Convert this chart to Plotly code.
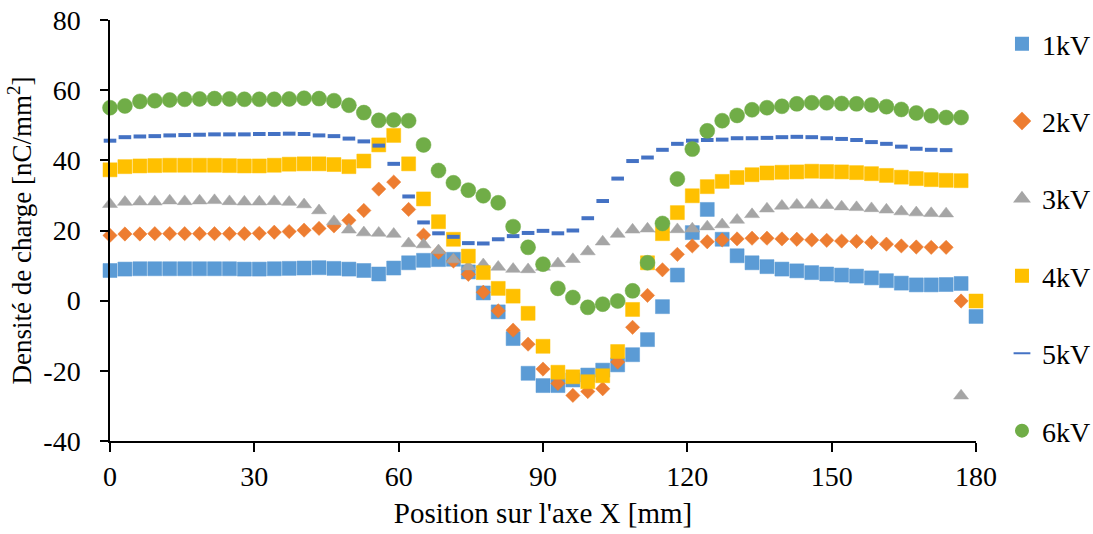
import plotly.graph_objects as go

# measurement positions (mm): 59 equally spaced points over 0..180
x_mm = [round(i * 180 / 58, 2) for i in range(59)]

series_names = ["1kV", "2kV", "3kV", "4kV", "5kV", "6kV"]

kv1 = [8.6, 9.0, 9.1, 9.1, 9.1, 9.1, 9.1, 9.1, 9.1, 9.0, 9.0, 9.1, 9.2, 9.3, 9.4, 9.2, 9.0, 8.6, 7.6, 9.3,
       10.8, 11.5, 11.7, 11.8, 8.2, 2.2, -3.2, -10.8, -20.7, -24.2, -24.2, -22.6, -21.2, -19.8, -18.3, -15.4,
       -11.1, -1.7, 7.3, 19.4, 26.0, 17.5, 12.8, 10.8, 9.7, 9.0, 8.5, 8.0, 7.6, 7.3, 7.0, 6.5, 5.7, 5.0, 4.5,
       4.5, 4.6, 4.9, -4.5]
kv2 = [18.6, 19.0, 19.0, 19.1, 19.1, 19.1, 19.1, 19.1, 19.1, 19.1, 19.2, 19.5, 19.7, 20.1, 20.6, 21.3, 22.9,
       25.7, 31.8, 33.8, 26.0, 18.7, 13.8, 11.3, 7.5, 2.4, -2.9, -8.4, -12.4, -19.5, -23.6, -27.0, -25.9, -25.1,
       -17.5, -7.6, 1.5, 8.8, 13.2, 15.6, 16.8, 17.3, 17.6, 17.8, 17.8, 17.6, 17.5, 17.3, 17.2, 17.0, 16.9,
       16.6, 16.1, 15.6, 15.3, 15.2, 15.2, -0.1]
kv3 = [27.5, 28.1, 28.2, 28.2, 28.5, 28.3, 28.5, 28.6, 28.3, 28.2, 28.2, 28.3, 28.1, 27.4, 25.7, 22.6, 20.2,
       19.4, 19.3, 19.0, 16.3, 16.0, 14.3, 11.7, 9.7, 10.3, 9.6, 9.0, 8.9, 9.6, 10.6, 11.8, 14.0, 16.8, 19.0,
       20.2, 20.5, 20.4, 20.3, 20.5, 21.1, 21.7, 23.0, 24.6, 26.2, 27.0, 27.3, 27.3, 27.2, 26.8, 26.6, 26.3,
       25.9, 25.4, 25.1, 24.9, 24.8, -27.1]
kv4 = [37.3, 38.2, 38.4, 38.5, 38.6, 38.6, 38.6, 38.6, 38.5, 38.4, 38.4, 38.6, 38.9, 39.0, 39.0, 38.8, 38.2,
       39.8, 44.4, 47.1, 39.0, 29.0, 22.5, 17.5, 12.7, 8.0, 3.5, 1.3, -3.6, -13.0, -20.4, -21.7, -23.1, -21.4,
       -14.5, -2.5, 10.8, 19.1, 25.1, 29.9, 32.5, 34.0, 35.1, 35.9, 36.4, 36.6, 36.7, 36.9, 36.8, 36.7, 36.5,
       36.2, 35.7, 35.2, 34.8, 34.5, 34.3, 34.2, -0.1]
kv5 = [45.6, 46.6, 46.8, 46.9, 47.1, 47.2, 47.3, 47.4, 47.4, 47.4, 47.5, 47.5, 47.6, 47.5, 47.1, 46.9, 46.2,
       45.4, 44.2, 39.0, 29.7, 22.3, 19.2, 18.2, 16.4, 16.3, 17.5, 18.4, 19.3, 19.9, 19.2, 20.0, 23.5, 28.4,
       34.8, 39.8, 40.8, 43.0, 44.7, 45.6, 45.8, 45.9, 46.3, 46.3, 46.4, 46.6, 46.7, 46.6, 46.3, 46.1, 45.8,
       45.2, 44.7, 43.9, 43.3, 43.0, 42.9]
kv6 = [55.0, 55.5, 56.8, 57.0, 57.2, 57.4, 57.5, 57.6, 57.5, 57.4, 57.4, 57.4, 57.5, 57.7, 57.6, 57.0, 55.7,
       53.6, 51.4, 51.5, 51.3, 44.4, 37.1, 33.6, 31.5, 29.9, 27.9, 21.1, 15.2, 10.4, 3.5, 0.9, -1.9, -1.0,
       -0.1, 2.8, 10.8, 22.0, 34.7, 43.2, 48.4, 51.3, 52.8, 54.4, 55.0, 55.4, 56.1, 56.4, 56.4, 56.2, 56.1,
       55.8, 55.3, 54.5, 53.5, 52.7, 52.2, 52.2]

x_ticks = [0, 30, 60, 90, 120, 150, 180]
y_ticks = [-40, -20, 0, 20, 40, 60, 80]
y_tick_text = ["-40", "-20", "0", "20", "40", "60", "80"]

colors = ["#5B9BD5", "#ED7D31", "#A5A5A5", "#FFC000", "#4472C4", "#70AD47"]
symbols = ["square", "diamond", "triangle-up", "square", "line-ew", "circle"]
sizes = [14, 11, 13, 14, 9, 15]
values = [kv1, kv2, kv3, kv4, kv5, kv6]

FONT = '"Liberation Serif", "Times New Roman", Times, serif'

fig = go.Figure()
for name, vals, col, sym, sz in zip(series_names, values, colors, symbols, sizes):
    if sym == "line-ew":
        marker = dict(symbol=sym, size=sz, color=col, line=dict(color=col, width=4))
    else:
        marker = dict(symbol=sym, size=sz, color=col, line=dict(color=col, width=0.5))
    fig.add_trace(go.Scatter(
        x=x_mm[:len(vals)], y=vals, mode="markers", name=name,
        legendgroup=name, marker=marker, cliponaxis=False,
    ))

fig.update_layout(
    width=1093, height=534,
    margin=dict(l=110, r=117, t=20, b=93, autoexpand=False),
    paper_bgcolor="white", plot_bgcolor="white",
    font=dict(family=FONT, size=28, color="black"),
    legend=dict(
        x=1.030, xanchor="left", xref="paper",
        y=0.9645, yanchor="top", yref="container",
        maxheight=1,
        font=dict(family=FONT, size=28, color="black"),
        tracegroupgap=38, itemsizing="constant",
        bgcolor="rgba(0,0,0,0)",
    ),
    xaxis=dict(
        range=[0, 180], tickvals=x_ticks, showgrid=False, zeroline=False,
        showline=True, linecolor="black", linewidth=2,
        ticks="outside", ticklen=9, tickwidth=2, tickcolor="black",
        tickfont=dict(family=FONT, size=28),
        title=dict(text="Position sur l'axe X [mm]", font=dict(family=FONT, size=29), standoff=12),
    ),
    yaxis=dict(
        range=[-40, 80], tickvals=y_ticks, ticktext=y_tick_text,
        showgrid=False, zeroline=False,
        showline=True, linecolor="black", linewidth=1.5,
        ticks="outside", ticklen=8, tickwidth=1.5, tickcolor="black",
        ticklabelstandoff=14, tickfont=dict(family=FONT, size=28),
        title=dict(text="Densité de charge [nC/mm<sup>2</sup>]", font=dict(family=FONT, size=27), standoff=4),
    ),
)

fig.write_html("out.html", config={"displayModeBar": False},
               post_script="document.body.style.margin='0px';")
